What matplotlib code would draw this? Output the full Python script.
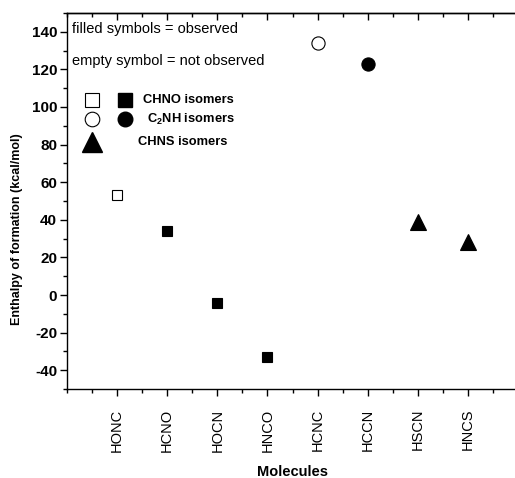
import numpy as np
import matplotlib
matplotlib.use("Agg")
import matplotlib.pyplot as plt
from matplotlib.ticker import MultipleLocator

plt.rcParams["font.family"] = ["Liberation Sans", "DejaVu Sans"]
plt.rcParams["mathtext.fontset"] = "custom"
plt.rcParams["mathtext.rm"] = "Liberation Sans:bold"
plt.rcParams["mathtext.bf"] = "Liberation Sans:bold"
plt.rcParams["axes.unicode_minus"] = False

molecules = ["HONC", "HCNO", "HOCN", "HNCO", "HCNC", "HCCN", "HSCN", "HNCS"]
enthalpy = [53, 34, -4, -33, 134, 123, 39, 28]
family = ["CHNO", "CHNO", "CHNO", "CHNO", "C2NH", "C2NH", "CHNS", "CHNS"]
observed = [False, True, True, True, False, True, True, True]

markers = {"CHNO": "s", "C2NH": "o", "CHNS": "^"}
sizes = {"CHNO": 7.5, "C2NH": 9.5, "CHNS": 11}

fig = plt.figure(figsize=(5.15, 4.78), dpi=100)
ax = fig.add_axes([0.130, 0.186, 0.876, 0.787])

x = np.arange(1, len(molecules) + 1)
for xi, yi, fam, obs in zip(x, enthalpy, family, observed):
    ax.plot(xi, yi, linestyle="none", marker=markers[fam], markersize=sizes[fam],
            markerfacecolor="black" if obs else "white", markeredgecolor="black",
            markeredgewidth=0.8)

ax.set_xlim(0, 9)
ax.set_ylim(-50, 150)
ax.set_xticks(x)
ax.set_xticklabels(molecules, rotation=90, fontsize=10.5)
ax.xaxis.set_minor_locator(MultipleLocator(0.5))
ax.set_yticks(np.arange(-40, 141, 20))
ax.yaxis.set_minor_locator(MultipleLocator(10))
for lab in ax.get_yticklabels():
    lab.set_fontweight("bold")
    lab.set_fontsize(11)

ax.tick_params(axis="x", which="major", direction="out", length=5, width=1, pad=9)
ax.tick_params(axis="x", which="minor", direction="out", length=3, width=1)
ax.tick_params(axis="y", which="major", direction="out", length=5, width=1, pad=2)
ax.tick_params(axis="y", which="minor", direction="out", length=3, width=1)
ax.spines["right"].set_visible(False)
for s in ["left", "bottom", "top"]:
    ax.spines[s].set_linewidth(1.0)

# top axis: inward ticks, no labels
top = ax.secondary_xaxis("top")
top.set_xticks(x)
top.xaxis.set_minor_locator(MultipleLocator(0.5))
top.tick_params(axis="x", which="major", direction="in", length=5, width=1, labeltop=False)
top.tick_params(axis="x", which="minor", direction="in", length=3, width=1)
top.spines["top"].set_linewidth(1.0)

ax.set_xlabel("Molecules", fontweight="bold", fontsize=10.5, labelpad=9.5)
ax.set_ylabel("Enthalpy of formation (kcal/mol)", fontweight="bold", fontsize=9)
ax.yaxis.set_label_coords(-0.097, 0.424)

tr = ax.transAxes
ax.text(0.011, 0.958, "filled symbols = observed", transform=tr, va="center", fontsize=10.5)
ax.text(0.011, 0.872, "empty symbol = not observed", transform=tr, va="center", fontsize=10.5)

ax.plot(0.055, 0.769, "s", ms=10, mfc="white", mec="black", mew=0.8, transform=tr)
ax.plot(0.129, 0.769, "s", ms=10, mfc="black", mec="black", transform=tr)
ax.plot(0.055, 0.718, "o", ms=10.5, mfc="white", mec="black", mew=0.8, transform=tr)
ax.plot(0.129, 0.718, "o", ms=10.5, mfc="black", mec="black", transform=tr)
ax.plot(0.055, 0.658, "^", ms=14, mfc="black", mec="black", transform=tr)
ax.text(0.168, 0.769, "CHNO isomers", transform=tr, va="center", fontsize=9.3, fontweight="bold")
ax.text(0.177, 0.718, r"C$_\mathbf{2}$NH isomers", transform=tr, va="center", fontsize=9.3,
        fontweight="bold")
ax.text(0.157, 0.658, "CHNS isomers", transform=tr, va="center", fontsize=9.3, fontweight="bold")

fig.savefig("out.png", dpi=100)
